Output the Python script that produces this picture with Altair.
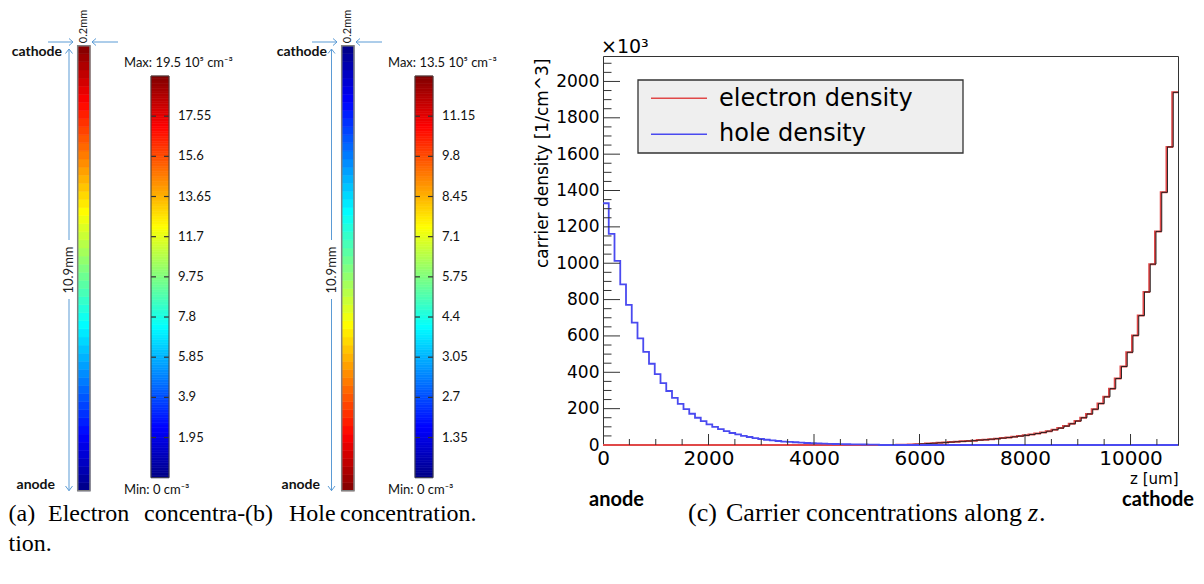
import altair as alt
import numpy as np
import pandas as pd

# ---------------- data ----------------
BIN_UM = 109          # histogram bin width along z (um), 100 bins over 10.9 mm
LEN_MM = 10.9

# carrier density per z bin, units 1e3 / cm^3
electron_density = [
    0, 0, 0, 0, 0, 0, 0, 0, 0, 0,
    0, 0, 0, 0, 0, 0, 0, 0, 0, 0,
    0, 0, 0, 0, 0, 0, 0, 0, 0, 0,
    0, 0, 0, 0, 0, 0, 0, 0, 0, 0,
    0, 0, 0, 0, 0, 0, 0, 0, 0, 0,
    0, 0.8, 1.5, 2.5, 4, 6, 8, 10, 12, 14,
    16, 18, 20, 22, 24, 27, 29, 32, 35, 38,
    41, 45, 49, 53, 58, 63, 69, 76, 84, 93,
    104, 117, 132, 150, 171, 197, 228, 265, 310, 366,
    432, 510, 603, 712, 842, 995, 1175, 1390, 1640, 1940]
hole_density = [
    1330, 1161, 1013, 884, 771, 673, 587, 512, 447, 390,
    340, 297, 259, 226, 197, 172, 150, 131, 114, 100,
    87, 76, 66, 58, 50, 44, 38, 33, 29, 25,
    22, 19, 17, 15, 13, 11, 9.6, 8.4, 7.3, 6.4,
    5.6, 4.9, 4.2, 3.7, 3.2, 2.8, 2.5, 2.1, 0, 0,
    0, 0, 0, 0, 0, 0, 0, 0, 0, 0,
    0, 0, 0, 0, 0, 0, 0, 0, 0, 0,
    0, 0, 0, 0, 0, 0, 0, 0, 0, 0,
    0, 0, 0, 0, 0, 0, 0, 0, 0, 0,
    0, 0, 0, 0, 0, 0, 0, 0, 0, 0]

x_major = [0, 2000, 4000, 6000, 8000, 10000]
y_major = [0, 200, 400, 600, 800, 1000, 1200, 1400, 1600, 1800, 2000]

# concentration along the detector strips (anode -> cathode), 1e5 cm^-3
strip_electron = [
    0.18, 0.53, 0.89, 1.24, 1.60, 1.95, 2.30, 2.66, 3.01, 3.37,
    3.72, 4.08, 4.43, 4.79, 5.14, 5.50, 5.85, 6.20, 6.56, 6.91,
    7.27, 7.62, 7.98, 8.33, 8.69, 9.04, 9.40, 9.75, 10.10, 10.46,
    10.81, 11.17, 11.52, 11.88, 12.23, 12.59, 12.94, 13.30, 13.65, 14.00,
    14.36, 14.71, 15.07, 15.42, 15.78, 16.13, 16.49, 16.84, 17.20, 17.55,
    17.90, 18.26, 18.61, 18.97, 19.32]
strip_hole = [
    13.38, 13.13, 12.89, 12.64, 12.40, 12.15, 11.90, 11.66, 11.41, 11.17,
    10.92, 10.68, 10.43, 10.19, 9.94, 9.70, 9.45, 9.20, 8.96, 8.71,
    8.47, 8.22, 7.98, 7.73, 7.49, 7.24, 7.00, 6.75, 6.50, 6.26,
    6.01, 5.77, 5.52, 5.28, 5.03, 4.79, 4.54, 4.30, 4.05, 3.80,
    3.56, 3.31, 3.07, 2.82, 2.58, 2.33, 2.09, 1.84, 1.60, 1.35,
    1.10, 0.86, 0.61, 0.37, 0.12]

max_a, max_b = 19.5, 13.5
cbar_a_ticks = [1.95, 3.9, 5.85, 7.8, 9.75, 11.7, 13.65, 15.6, 17.55]
cbar_a_labels = ["1.95", "3.9", "5.85", "7.8", "9.75", "11.7", "13.65", "15.6", "17.55"]
cbar_b_ticks = [1.35, 2.7, 4.05, 5.4, 6.75, 8.1, 9.45, 10.8, 12.15]
cbar_b_labels = ["1.35", "2.7", "3.05", "4.4", "5.75", "7.1", "8.45", "9.8", "11.15"]

# ---------------- layout / style ----------------
W, H = 575, 389
OX, OY = 603, 56           # page position of the plot origin (panel c frame)
RED, BLUE, ARROW = "#e04848", "#4a4af0", "#5b9bd5"
ROOTF, CALF, SERIF = "DejaVu Sans", "Lato", "Liberation Serif"
JET_STOPS = [0, 0.125, 0.375, 0.625, 0.875, 1.0]
JET_COLORS = ["#000084", "#0000ff", "#00ffff", "#ffff00", "#ff0000", "#800000"]
ONE = pd.DataFrame({"k": [0]})


def X(px):
    return px - OX


def Y(py):
    return py - OY


def seg(x1, y1, x2, y2, color=ARROW, w=1.0):
    return alt.Chart(ONE).mark_rule(color=color, strokeWidth=w).encode(
        x=alt.value(X(x1)), y=alt.value(Y(y1)), x2=alt.value(X(x2)), y2=alt.value(Y(y2)))


def label(px, py, text, size, font=CALF, weight="normal", align="left",
          baseline="alphabetic", angle=0, color="#111111", style="normal"):
    return alt.Chart(ONE).mark_text(
        text=text, font=font, fontSize=size, fontWeight=weight, align=align,
        baseline=baseline, angle=angle, color=color, fontStyle=style).encode(
        x=alt.value(X(px)), y=alt.value(Y(py)))


def jet(M):
    return alt.Scale(domain=[s * M for s in JET_STOPS], range=JET_COLORS, interpolate="rgb")


def strip(vals, M, x0, x1, y_bot, y_top):
    n = len(vals)
    edges = [LEN_MM * k / n for k in range(n + 1)]
    df = pd.DataFrame({"z0": edges[:-1], "z1": edges[1:], "v": vals})
    ysc = alt.Scale(domain=[0, LEN_MM], range=[Y(y_bot), Y(y_top)], nice=False, zero=False)
    rects = alt.Chart(df).mark_rect(strokeWidth=0.6).encode(
        x=alt.value(X(x0)), x2=alt.value(X(x1)),
        y=alt.Y("z0:Q", scale=ysc, axis=None), y2="z1:Q",
        color=alt.Color("v:Q", scale=jet(M), legend=None),
        stroke=alt.Stroke("v:Q", scale=jet(M), legend=None))
    border = alt.Chart(ONE).mark_rect(filled=False, stroke="#808080", strokeWidth=1.5).encode(
        x=alt.value(X(x0)), x2=alt.value(X(x1)), y=alt.value(Y(y_top)), y2=alt.value(Y(y_bot)))
    return [rects, border]


def colorbar(M, ticks, labels, x0, x1, y_bot, y_top, xlab):
    samples = np.linspace(0, M, 161)
    df = pd.DataFrame({"lo": samples[:-1], "hi": samples[1:], "v": (samples[:-1] + samples[1:]) / 2})
    ysc = alt.Scale(domain=[0, M], range=[Y(y_bot), Y(y_top)], nice=False, zero=False)
    rects = alt.Chart(df).mark_rect(strokeWidth=0.6).encode(
        x=alt.value(X(x0)), x2=alt.value(X(x1)),
        y=alt.Y("lo:Q", scale=ysc, axis=None), y2="hi:Q",
        color=alt.Color("v:Q", scale=jet(M), legend=None),
        stroke=alt.Stroke("v:Q", scale=jet(M), legend=None))
    tdf = pd.DataFrame({"t": ticks, "lab": labels})
    tl = alt.Chart(tdf).mark_rule(color="#333333", strokeWidth=1.2).encode(
        y=alt.Y("t:Q", scale=ysc, axis=None), x=alt.value(X(x0)), x2=alt.value(X(x0 + 5)))
    tr = alt.Chart(tdf).mark_rule(color="#333333", strokeWidth=1.2).encode(
        y=alt.Y("t:Q", scale=ysc, axis=None), x=alt.value(X(x1 - 5)), x2=alt.value(X(x1)))
    txt = alt.Chart(tdf).mark_text(font=CALF, fontSize=13, align="left", baseline="middle",
                                   color="#111111").encode(
        y=alt.Y("t:Q", scale=ysc, axis=None), x=alt.value(X(xlab)), text="lab:N")
    inner = alt.layer(rects, tl, tr, txt)
    border = alt.Chart(ONE).mark_rect(filled=False, stroke="#444444", strokeWidth=1).encode(
        x=alt.value(X(x0)), x2=alt.value(X(x1)), y=alt.value(Y(y_top)), y2=alt.value(Y(y_bot)))
    return [inner, border]


def panel_strip(vals, M, ticks, labels, dx, name_x_right, vline_x, max_text):
    layers = []
    layers += strip(vals, M, 77.7 + dx, 90.0 + dx, 490.7, 45.7)
    layers += colorbar(M, ticks, labels, 151 + dx, 169 + dx, 477.7, 76, 178 + dx)
    layers.append(label(124 + dx, 67, max_text, 13))
    layers.append(label(124 + dx, 494, "Min: 0 cm\u207b\u00b3", 13))
    layers.append(label(name_x_right, 56, "cathode", 14, weight="bold", align="right"))
    layers.append(label(name_x_right - 7, 489, "anode", 14, weight="bold", align="right"))
    vx = vline_x
    # vertical 10.9 mm dimension arrow
    layers.append(seg(vx, 49, vx, 240))
    layers.append(seg(vx, 299, vx, 490.7))
    layers.append(seg(vx - 3.5, 53.5, vx, 49))
    layers.append(seg(vx + 3.5, 53.5, vx, 49))
    layers.append(seg(vx - 3.5, 486, vx, 490.7))
    layers.append(seg(vx + 3.5, 486, vx, 490.7))
    layers.append(label(vx, 270, "10.9mm", 13, align="center", baseline="middle", angle=270,
                        color="#222222"))
    # horizontal 0.2 mm dimension arrows
    layers.append(seg(48 + dx, 42, 73 + dx, 42))
    layers.append(seg(69 + dx, 38.5, 73 + dx, 42))
    layers.append(seg(69 + dx, 45.5, 73 + dx, 42))
    layers.append(seg(118 + dx, 42, 92 + dx, 42))
    layers.append(seg(96 + dx, 38.5, 92 + dx, 42))
    layers.append(seg(96 + dx, 45.5, 92 + dx, 42))
    layers.append(label(84 + dx, 26.5, "0.2mm", 11, align="center", baseline="middle", angle=270,
                        color="#222222"))
    return layers


# ---------------- panel c ----------------
xs = alt.Scale(domain=[0, 10900], nice=False, zero=False)
ys = alt.Scale(domain=[0, 2140], nice=False, zero=False)
AX = alt.Axis(orient="bottom", values=x_major, format="d", ticks=False, domain=False, grid=False,
              labelFlush=False, labelFont=ROOTF, labelFontSize=20, labelColor="black",
              labelPadding=3, title="z [um]", titleFont=ROOTF, titleFontSize=15,
              titleFontWeight="normal", titleColor="black", titleAlign="right",
              titleAnchor="end", titleX=W, titleY=38, titleBaseline="alphabetic")
AY = alt.Axis(orient="left", values=y_major, format="d", ticks=False, domain=False, grid=False,
              labelFlush=False, labelFont=ROOTF, labelFontSize=17, labelColor="black",
              labelPadding=4, title="carrier density [1/cm^3]", titleFont=ROOTF,
              titleFontSize=17, titleFontWeight="normal", titleColor="black",
              titleAlign="right", titleX=-61, titleY=2, titleBaseline="middle")

edges_um = [i * BIN_UM for i in range(len(electron_density) + 1)]
df_e = pd.DataFrame({"z": edges_um, "n": electron_density + [electron_density[-1]]})
df_h = pd.DataFrame({"z": edges_um, "n": hole_density + [hole_density[-1]]})
df_k = df_e[df_e["z"] >= 51 * BIN_UM]

e_red = alt.Chart(df_e).mark_line(interpolate="step-after", color=RED, strokeWidth=2).encode(
    x=alt.X("z:Q", scale=xs, axis=AX), y=alt.Y("n:Q", scale=ys, axis=AY))
e_blk = alt.Chart(df_k).mark_line(interpolate="step-after", color="#1a1a1a", strokeWidth=0.9,
                                   xOffset=1).encode(
    x=alt.X("z:Q", scale=xs, axis=AX), y=alt.Y("n:Q", scale=ys, axis=AY))
h_blue = alt.Chart(df_h).mark_line(interpolate="step-after", color=BLUE, strokeWidth=1.8).encode(
    x=alt.X("z:Q", scale=xs, axis=AX), y=alt.Y("n:Q", scale=ys, axis=AY))

xt_major = pd.DataFrame({"t": [v for v in x_major if v > 0]})
xt_minor = pd.DataFrame({"t": [v for v in range(500, 10900, 500) if v % 2000]})
yt_major = pd.DataFrame({"t": [v for v in y_major if v > 0]})
yt_minor = pd.DataFrame({"t": [v for v in range(50, 2140, 50) if v % 200]})
AXC = "#333333"
tick_layers = [
    alt.Chart(xt_major).mark_rule(color=AXC).encode(
        x=alt.X("t:Q", scale=xs, axis=AX), y=alt.value(H), y2=alt.value(H - 11)),
    alt.Chart(xt_minor).mark_rule(color=AXC).encode(
        x=alt.X("t:Q", scale=xs, axis=AX), y=alt.value(H), y2=alt.value(H - 6)),
    alt.Chart(yt_major).mark_rule(color=AXC).encode(
        y=alt.Y("t:Q", scale=ys, axis=AY), x=alt.value(0), x2=alt.value(17)),
    alt.Chart(yt_minor).mark_rule(color=AXC).encode(
        y=alt.Y("t:Q", scale=ys, axis=AY), x=alt.value(0), x2=alt.value(8.5)),
]
panel_c = alt.layer(e_red, e_blk, h_blue, *tick_layers)

legend_layers = [
    alt.Chart(ONE).mark_rect(fill="#efefef", stroke="#333333", strokeWidth=1.3).encode(
        x=alt.value(X(638)), x2=alt.value(X(963)), y=alt.value(Y(80)), y2=alt.value(Y(153))),
    seg(651, 98.3, 707, 98.3, color=RED, w=1.5),
    seg(651, 134.3, 707, 134.3, color=BLUE, w=1.5),
    label(719, 106, "electron density", 24, font=ROOTF, color="black"),
    label(719, 141, "hole density", 24, font=ROOTF, color="black"),
    label(601, 53, "\u00d710\u00b3", 19, font=ROOTF, color="black"),
    label(589, 506, "anode", 20, weight="bold", color="black"),
    label(1194, 506, "cathode", 20, weight="bold", align="right", color="black"),
]

CS = 24
CC = 26
captions = [
    label(8.5, 521, "(a)", CS, font=SERIF, color="black"),
    label(48, 521, "Electron", CS, font=SERIF, color="black"),
    label(144, 521, "concentra-", CS, font=SERIF, color="black"),
    label(245, 521, "(b)", CS, font=SERIF, color="black"),
    label(289, 521, "Hole", CS, font=SERIF, color="black"),
    label(340, 521, "concentration.", CS, font=SERIF, color="black"),
    label(8.5, 551, "tion.", CS, font=SERIF, color="black"),
    label(688, 521, "(c)", CC, font=SERIF, color="black"),
    label(1022, 521, "Carrier concentrations along", CC, font=SERIF, color="black",
          align="right"),
    label(1028, 521, "z", CC, font=SERIF, color="black", style="italic"),
    label(1039, 521, ".", CC, font=SERIF, color="black"),
]

layers = []
layers += panel_strip(strip_electron, max_a, cbar_a_ticks, cbar_a_labels, 0, 62, 69,
                      "Max: 19.5 10\u2075 cm\u207b\u00b3")
layers += panel_strip(strip_hole, max_b, cbar_b_ticks, cbar_b_labels, 264, 327, 331.5,
                      "Max: 13.5 10\u2075 cm\u207b\u00b3")
layers.append(panel_c)
layers += legend_layers
layers += captions

chart = alt.layer(*layers).resolve_scale(
    x="independent", y="independent", color="independent", stroke="independent"
).properties(
    width=W, height=H,
    padding={"left": OX - 8, "top": OY - 8, "right": 1188 - (OX - 8) - W,
             "bottom": 568 - (OY - 8) - H},
    autosize=alt.AutoSizeParams(type="none"),
    background="white",
).configure_view(stroke="#333333", strokeWidth=1)

chart.save("out.html", embed_options={"renderer": "svg", "actions": False})
